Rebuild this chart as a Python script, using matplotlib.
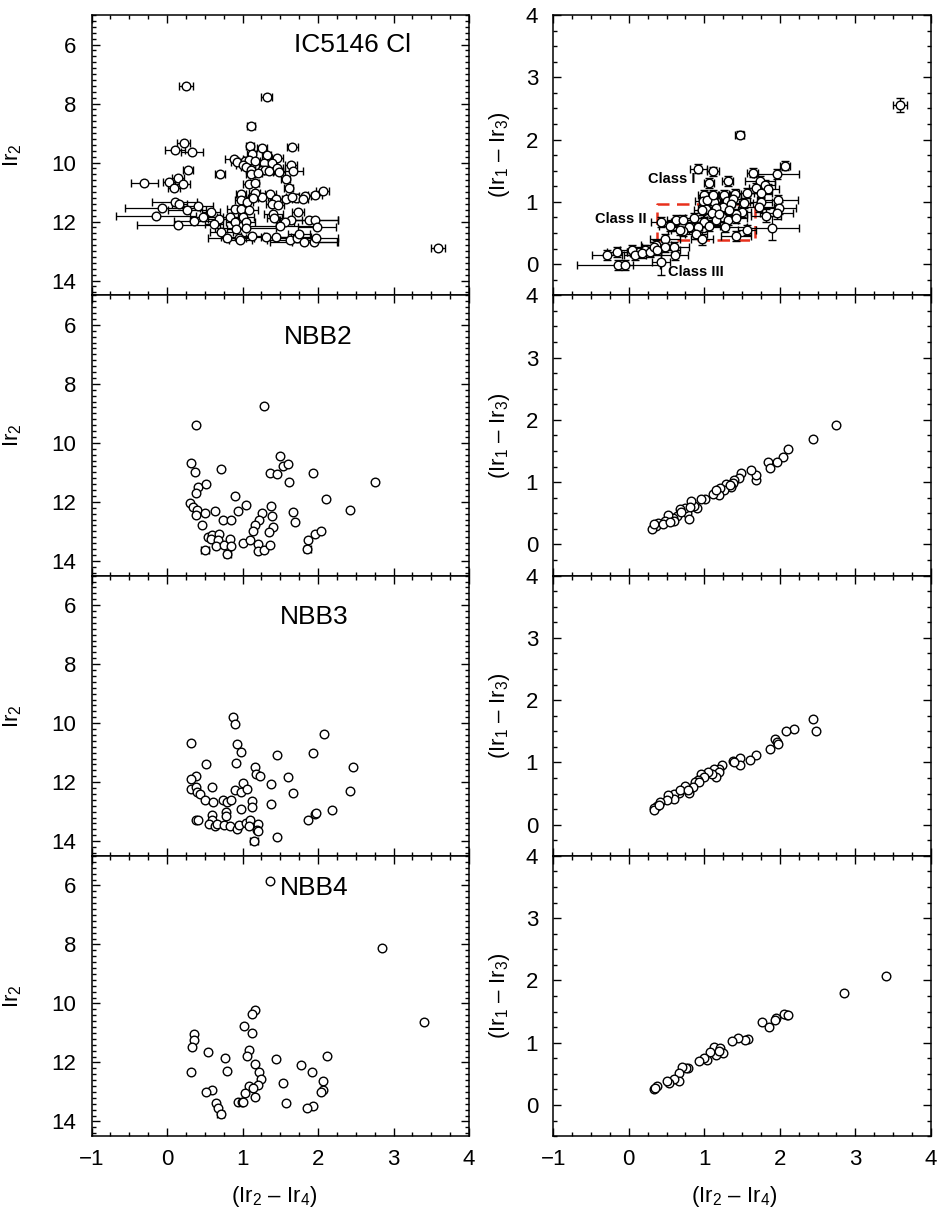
import numpy as np
import matplotlib
matplotlib.use("Agg")
import matplotlib.pyplot as plt
from matplotlib.ticker import MultipleLocator, NullFormatter

plt.rcParams['font.family'] = ['Liberation Sans', 'DejaVu Sans']
plt.rcParams['mathtext.fontset'] = 'custom'
plt.rcParams['mathtext.rm'] = 'Liberation Sans'
plt.rcParams['mathtext.it'] = 'Liberation Sans:italic'
plt.rcParams['mathtext.bf'] = 'Liberation Sans:bold'

# ---------------- DATA ----------------
panel_names = ["IC5146 Cl", "NBB2", "NBB3", "NBB4"]

# IC5146 Cl : colour-magnitude (x = Ir2-Ir4, y = Ir2, xerr)
ic_cmd_x = [0.25, 1.32, 1.11, 0.22, 0.11, 0.33, 1.10, 1.26, 1.66, 1.12, 1.32, 1.46, 0.89, 0.93, 1.03,
            1.08, 1.17, 1.29, 1.39, 1.00, 1.04, 1.64, 1.11, 1.26, 1.30, 1.35, 1.46, 1.48, 1.67, 1.11,
            1.20, 0.28, 0.70, 0.15, 0.03, 0.21, 0.09, -0.30, 1.09, 1.16, 1.57, 1.61, 2.06, 1.96, 1.83,
            1.71, 1.80, 1.57, 1.65, 1.37, 1.26, 1.16, 0.98, 1.44, 0.98, 1.06, 1.14, 1.39, 1.47, 0.10,
            0.16, -0.06, -0.15, 0.26, 0.41, 0.58, 0.48, 0.69, 0.62, 0.36, 0.15, 0.90, 0.98, 1.08, 1.00,
            0.84, 0.90, 1.04, 1.41, 1.42, 1.73, 1.64, 1.56, 1.50, 1.88, 1.96, 1.99, 0.72, 0.92, 1.04,
            0.79, 0.95, 0.97, 1.13, 1.44, 1.31, 1.63, 1.72, 1.75, 1.82, 1.95, 1.97, 3.59]
ic_cmd_y = [7.40, 7.78, 8.77, 9.34, 9.58, 9.63, 9.45, 9.52, 9.47, 9.72, 9.76, 9.85, 9.88, 9.99, 9.94,
            9.92, 9.95, 10.01, 10.03, 10.10, 10.14, 10.10, 10.24, 10.26, 10.24, 10.29, 10.18, 10.33, 10.28, 10.38,
            10.35, 10.26, 10.38, 10.54, 10.66, 10.72, 10.86, 10.70, 10.72, 10.69, 10.57, 10.86, 10.95, 11.10, 11.12,
            11.19, 11.25, 11.23, 11.16, 11.08, 11.16, 11.02, 11.08, 11.25, 11.28, 11.34, 11.19, 11.39, 11.45, 11.33,
            11.39, 11.55, 11.81, 11.62, 11.48, 11.68, 11.84, 11.93, 12.10, 11.98, 12.12, 11.59, 11.57, 11.62, 11.84,
            11.84, 12.00, 12.00, 11.76, 11.87, 11.67, 11.96, 12.02, 12.15, 11.95, 11.96, 12.18, 12.35, 12.24, 12.21,
            12.55, 12.55, 12.61, 12.49, 12.51, 12.52, 12.62, 12.57, 12.43, 12.68, 12.68, 12.56, 12.91]
ic_cmd_xerr = [0.09, 0.07, 0.05, 0.09, 0.13, 0.15, 0.05, 0.07, 0.07, 0.06, 0.06, 0.07, 0.12, 0.08, 0.08,
               0.06, 0.06, 0.07, 0.07, 0.08, 0.06, 0.08, 0.06, 0.10, 0.06, 0.07, 0.07, 0.08, 0.13, 0.06,
               0.06, 0.07, 0.07, 0.08, 0.08, 0.10, 0.08, 0.18, 0.08, 0.06, 0.06, 0.06, 0.09, 0.09, 0.08,
               0.08, 0.07, 0.08, 0.08, 0.07, 0.08, 0.07, 0.07, 0.08, 0.08, 0.08, 0.07, 0.08, 0.08, 0.30,
               0.10, 0.50, 0.53, 0.25, 0.20, 0.12, 0.18, 0.15, 0.12, 0.27, 0.55, 0.10, 0.12, 0.12, 0.15,
               0.10, 0.12, 0.12, 0.12, 0.10, 0.08, 0.15, 0.12, 0.50, 0.38, 0.30, 0.25, 0.15, 0.12, 0.40,
               0.25, 0.20, 0.15, 0.15, 0.20, 0.60, 0.30, 0.25, 0.15, 0.45, 0.30, 0.30, 0.09]

# IC5146 Cl : colour-colour (x = Ir2-Ir4, y = Ir1-Ir3, xerr, yerr)
ic_ccd_x = [3.59, 1.47, 2.07, 0.92, 1.11, 1.64, 1.96, 1.06, 1.31, 1.74, 1.81, 1.69, 1.84, 1.56, 1.75,
            1.26, 1.41, 1.09, 0.99, 0.98, 1.13, 1.30, 1.38, 1.97, 1.75, 1.72, 1.25, 1.36, 1.52, 1.02,
            1.16, 1.10, 1.50, 1.42, 1.99, 1.96, 1.82, 1.24, 1.32, 1.00, 0.87, 1.16, 1.42, 0.63, 0.43,
            0.71, 0.80, 0.92, 0.72, 0.89, 0.97, 1.27, 1.57, 1.42, 1.90, 0.48, 0.36, 0.22, 0.13, 0.04,
            0.08, 0.17, 0.60, 0.61, 0.43, -0.16, -0.29, -0.14, -0.05, 0.28, 0.33, 0.48, 0.38, 1.03,
            1.12, 0.97, 0.72, 0.55, 0.68, 1.06, 1.20, 1.33]
ic_ccd_y = [2.56, 2.08, 1.58, 1.53, 1.49, 1.47, 1.45, 1.30, 1.34, 1.34, 1.27, 1.22, 1.20, 1.14, 1.14,
            1.11, 1.12, 1.08, 1.11, 1.01, 0.99, 1.01, 1.05, 1.03, 1.00, 0.92, 0.91, 0.97, 0.98, 0.88,
            0.90, 0.82, 0.83, 0.81, 0.90, 0.82, 0.78, 0.76, 0.71, 0.68, 0.74, 0.71, 0.74, 0.71, 0.67,
            0.60, 0.60, 0.59, 0.53, 0.48, 0.41, 0.59, 0.55, 0.45, 0.58, 0.40, 0.30, 0.23, 0.19, 0.23,
            0.15, 0.18, 0.28, 0.15, 0.03, 0.19, 0.14, -0.02, -0.01, 0.20, 0.28, 0.28, 0.22, 1.03,
            1.11, 0.87, 0.71, 0.62, 0.55, 0.62, 0.80, 0.87]
ic_ccd_xerr = [0.09, 0.06, 0.07, 0.11, 0.08, 0.07, 0.30, 0.07, 0.07, 0.20, 0.12, 0.10, 0.15, 0.10, 0.15,
               0.08, 0.08, 0.08, 0.08, 0.10, 0.08, 0.08, 0.10, 0.27, 0.15, 0.20, 0.10, 0.10, 0.12, 0.10,
               0.10, 0.12, 0.12, 0.15, 0.22, 0.22, 0.20, 0.12, 0.12, 0.12, 0.12, 0.12, 0.15, 0.12, 0.13,
               0.15, 0.15, 0.12, 0.20, 0.15, 0.15, 0.30, 0.12, 0.20, 0.35, 0.20, 0.20, 0.20, 0.15, 0.15,
               0.15, 0.15, 0.20, 0.18, 0.12, 0.13, 0.20, 0.55, 0.10, 0.15, 0.15, 0.15, 0.30, 0.10,
               0.08, 0.10, 0.12, 0.15, 0.12, 0.15, 0.12, 0.12]
ic_ccd_yerr = [0.11, 0.06, 0.07, 0.07, 0.07, 0.07, 0.08, 0.08, 0.08, 0.08, 0.08, 0.08, 0.08, 0.08, 0.08,
               0.08, 0.08, 0.08, 0.08, 0.08, 0.08, 0.08, 0.08, 0.08, 0.08, 0.08, 0.08, 0.08, 0.08, 0.08,
               0.08, 0.08, 0.08, 0.08, 0.10, 0.10, 0.10, 0.08, 0.08, 0.08, 0.08, 0.08, 0.08, 0.08, 0.08,
               0.08, 0.08, 0.08, 0.08, 0.08, 0.11, 0.08, 0.08, 0.08, 0.19, 0.08, 0.08, 0.08, 0.08, 0.08,
               0.08, 0.08, 0.08, 0.08, 0.20, 0.08, 0.08, 0.08, 0.08, 0.08, 0.08, 0.08, 0.08, 0.08,
               0.08, 0.08, 0.08, 0.08, 0.08, 0.08, 0.08, 0.08]

# NBB2
nbb2_cmd_x = [1.28, 0.39, 0.32, 0.37, 0.71, 1.50, 1.54, 1.60, 1.37, 1.46, 1.93, 1.62, 2.75, 0.41, 0.52,
              0.39, 0.90, 2.11, 0.30, 0.35, 0.40, 0.39, 0.50, 0.64, 0.94, 1.05, 1.38, 1.26, 1.39, 1.67,
              1.69, 2.43, 0.74, 0.85, 1.22, 1.17, 1.14, 1.40, 1.35, 0.47, 0.54, 0.59, 0.69, 0.58, 0.67,
              0.65, 0.76, 0.84, 0.85, 0.50, 0.80, 1.00, 1.10, 1.20, 1.20, 1.29, 1.37, 1.87, 1.96, 2.04,
              1.86]
nbb2_cmd_y = [8.75, 9.40, 10.69, 11.00, 10.88, 10.46, 10.78, 10.72, 11.01, 11.06, 11.01, 11.32, 11.32, 11.49, 11.39,
              11.71, 11.81, 11.89, 12.05, 12.17, 12.26, 12.43, 12.38, 12.32, 12.32, 12.12, 12.15, 12.38, 12.49, 12.36,
              12.69, 12.29, 12.60, 12.60, 12.60, 12.77, 12.98, 12.85, 13.01, 12.80, 13.19, 13.11, 13.09, 13.25, 13.28,
              13.50, 13.45, 13.25, 13.50, 13.63, 13.78, 13.41, 13.30, 13.42, 13.65, 13.63, 13.46, 13.28, 13.09, 13.00,
              13.59]
nbb2_cmd_xerr = [0, 0, 0, 0, 0, 0, 0, 0, 0, 0, 0, 0, 0, 0, 0,
                 0, 0, 0, 0, 0, 0, 0, 0, 0, 0, 0, 0, 0, 0, 0,
                 0, 0, 0, 0, 0, 0, 0, 0, 0, 0, 0, 0, 0, 0, 0,
                 0, 0, 0, 0, 0.05, 0.05, 0, 0, 0, 0, 0, 0, 0, 0, 0,
                 0.05]
nbb2_ccd_x = [2.75, 2.44, 2.11, 2.04, 1.96, 1.85, 1.87, 1.69, 1.68, 1.62, 1.49, 1.46, 1.39, 1.38, 1.36,
              1.29, 1.26, 1.21, 1.19, 1.11, 1.01, 0.96, 0.90, 0.86, 0.83, 0.77, 0.80, 0.74, 0.68, 0.64,
              0.58, 0.52, 0.48, 0.39, 0.36, 0.31, 0.45, 0.60, 0.69, 1.15, 1.34, 0.34, 0.55, 0.81]
nbb2_ccd_y = [1.91, 1.69, 1.53, 1.41, 1.33, 1.33, 1.22, 1.04, 1.11, 1.19, 1.14, 1.07, 1.03, 0.99, 0.93,
              0.97, 0.87, 0.91, 0.80, 0.81, 0.73, 0.73, 0.59, 0.62, 0.69, 0.51, 0.41, 0.59, 0.57, 0.45,
              0.42, 0.48, 0.38, 0.35, 0.30, 0.25, 0.33, 0.37, 0.52, 0.88, 0.95, 0.33, 0.36, 0.60]

# NBB3
nbb3_cmd_x = [0.87, 0.90, 0.32, 0.93, 0.98, 2.08, 1.46, 1.93, 0.52, 0.91, 1.16, 1.18, 1.23, 2.47, 0.39,
              0.32, 1.60, 1.38, 1.00, 0.32, 0.38, 0.60, 0.90, 0.98, 1.06, 1.67, 2.43, 0.40, 0.44, 0.50,
              0.61, 0.74, 0.79, 0.85, 1.13, 1.12, 1.38, 0.98, 0.78, 0.78, 0.59, 0.60, 0.39, 0.41, 0.55,
              0.64, 0.66, 0.76, 0.83, 0.93, 0.96, 1.05, 1.10, 1.09, 1.20, 1.19, 1.21, 1.15, 1.46, 1.87,
              1.96, 1.97, 2.19]
nbb3_cmd_y = [9.80, 10.03, 10.69, 10.71, 10.99, 10.37, 11.07, 11.02, 11.40, 11.36, 11.50, 11.72, 11.79, 11.50, 11.80,
              11.88, 11.84, 12.06, 12.04, 12.22, 12.18, 12.15, 12.26, 12.32, 12.24, 12.38, 12.30, 12.32, 12.41, 12.60,
              12.68, 12.60, 12.66, 12.60, 12.64, 12.83, 12.74, 12.91, 13.02, 13.16, 13.13, 13.28, 13.30, 13.28, 13.41,
              13.49, 13.43, 13.45, 13.50, 13.58, 13.45, 13.37, 13.30, 13.50, 13.42, 13.61, 13.67, 13.98, 13.86, 13.28,
              13.08, 13.03, 12.95]
nbb3_cmd_xerr = [0, 0, 0, 0, 0, 0, 0, 0, 0, 0, 0, 0, 0, 0, 0,
                 0, 0, 0, 0, 0, 0, 0, 0, 0, 0, 0, 0, 0, 0, 0,
                 0, 0, 0, 0, 0, 0, 0, 0, 0, 0, 0, 0, 0, 0, 0,
                 0, 0, 0, 0, 0, 0, 0, 0, 0, 0, 0, 0, 0.05, 0, 0,
                 0, 0, 0]
nbb3_ccd_x = [2.44, 2.48, 2.19, 2.08, 1.93, 1.96, 1.98, 1.87, 1.68, 1.61, 1.47, 1.47, 1.38, 1.39, 1.23,
              1.19, 1.13, 1.20, 1.16, 1.10, 1.05, 0.96, 1.00, 0.92, 0.88, 0.93, 0.85, 0.77, 0.80, 0.75,
              0.67, 0.60, 0.60, 0.52, 0.51, 0.41, 0.38, 0.33, 0.34, 0.40, 0.68, 0.79]
nbb3_ccd_y = [1.70, 1.50, 1.53, 1.51, 1.37, 1.33, 1.30, 1.22, 1.12, 1.04, 1.07, 0.96, 1.03, 1.00, 0.96,
              0.90, 0.89, 0.85, 0.76, 0.81, 0.85, 0.82, 0.76, 0.72, 0.69, 0.68, 0.61, 0.58, 0.51, 0.62,
              0.51, 0.49, 0.42, 0.48, 0.40, 0.36, 0.30, 0.27, 0.24, 0.31, 0.56, 0.55]

# NBB4
nbb4_cmd_x = [1.36, 2.85, 3.40, 1.17, 1.12, 1.02, 1.13, 0.36, 0.36, 0.33, 0.54, 1.09, 1.06, 0.77, 1.45,
              2.12, 1.78, 1.17, 0.32, 0.80, 1.92, 1.22, 1.25, 2.06, 1.53, 1.20, 1.08, 1.14, 2.07, 2.04,
              0.60, 0.51, 1.03, 1.17, 0.65, 0.67, 0.71, 0.94, 0.99, 1.01, 1.58, 1.94, 1.86]
nbb4_cmd_y = [5.85, 8.11, 10.63, 10.23, 10.35, 10.75, 11.00, 11.02, 11.24, 11.47, 11.64, 11.58, 11.79, 11.84, 11.87,
              11.77, 12.08, 12.06, 12.34, 12.28, 12.33, 12.34, 12.55, 12.63, 12.69, 12.76, 12.79, 12.87, 12.93, 12.99,
              12.93, 13.01, 13.03, 13.18, 13.38, 13.54, 13.75, 13.34, 13.33, 13.33, 13.39, 13.48, 13.56]
nbb4_cmd_xerr = [0, 0, 0, 0, 0, 0, 0, 0, 0, 0, 0, 0, 0, 0, 0,
                 0, 0, 0, 0, 0, 0, 0, 0, 0, 0, 0, 0, 0, 0, 0,
                 0, 0, 0, 0, 0, 0, 0.05, 0, 0, 0, 0, 0, 0]
nbb4_ccd_x = [3.40, 2.85, 2.09, 2.05, 2.11, 1.95, 1.93, 1.77, 1.86, 1.58, 1.54, 1.45, 1.37, 1.13, 1.21,
              1.25, 1.16, 1.07, 1.03, 1.00, 0.93, 0.79, 0.76, 0.71, 0.67, 0.67, 0.60, 0.53, 0.37, 0.33,
              0.35, 0.51, 1.19]
nbb4_ccd_y = [2.07, 1.80, 1.45, 1.46, 1.44, 1.39, 1.37, 1.33, 1.25, 1.06, 1.04, 1.07, 1.03, 0.93, 0.91,
              0.83, 0.80, 0.85, 0.72, 0.76, 0.70, 0.59, 0.59, 0.61, 0.52, 0.39, 0.42, 0.36, 0.31, 0.25,
              0.28, 0.38, 0.87]

cmd_sets = [(ic_cmd_x, ic_cmd_y, ic_cmd_xerr),
            (nbb2_cmd_x, nbb2_cmd_y, nbb2_cmd_xerr),
            (nbb3_cmd_x, nbb3_cmd_y, nbb3_cmd_xerr),
            (nbb4_cmd_x, nbb4_cmd_y, nbb4_cmd_xerr)]
ccd_sets = [(ic_ccd_x, ic_ccd_y, ic_ccd_xerr, ic_ccd_yerr),
            (nbb2_ccd_x, nbb2_ccd_y, None, None),
            (nbb3_ccd_x, nbb3_ccd_y, None, None),
            (nbb4_ccd_x, nbb4_ccd_y, None, None)]

# Class II box and labels in colour-colour plane
class2_box_x = [0.37, 1.67]
class2_box_y = [0.38, 0.97]
class_labels = ["Class I", "Class II", "Class III"]
class_label_x = [0.25, -0.45, 0.52]
class_label_y = [1.37, 0.73, -0.13]

title_x = [1.68, 1.55, 1.49, 1.50]
title_y = [6.0, 6.4, 6.4, 6.1]

# ---------------- PLOT ----------------
W, H = 941, 1215
fig = plt.figure(figsize=(W / 100, H / 100), dpi=100)

lx0, rx0, pw = 91.5, 553.3, 377.5
top, ph = 15.0, 280.3

mk = dict(marker='o', ms=6.2, mfc='white', mec='black', mew=1.0, linestyle='none')
eb = dict(ecolor='black', elinewidth=0.9, capsize=2.8, capthick=0.9)


def style(ax, bottom_row):
    ax.tick_params(which='both', direction='in', top=True, right=True,
                   labelsize=16, width=1.0, colors='black')
    ax.tick_params(which='major', length=6)
    ax.tick_params(which='minor', length=3)
    ax.tick_params(axis='y', pad=11)
    ax.tick_params(axis='x', pad=9)
    ax.xaxis.set_major_locator(MultipleLocator(1))
    ax.xaxis.set_minor_locator(MultipleLocator(0.25))
    ax.set_xlim(-1, 4)
    for s in ax.spines.values():
        s.set_linewidth(1.1)
    if not bottom_row:
        ax.xaxis.set_major_formatter(NullFormatter())


for i in range(4):
    y0 = H - (top + (i + 1) * ph)
    bottom_row = (i == 3)

    # left: colour-magnitude
    axl = fig.add_axes([lx0 / W, y0 / H, pw / W, ph / H])
    style(axl, bottom_row)
    axl.set_ylim(14.5, 5)
    axl.yaxis.set_major_locator(MultipleLocator(2))
    axl.yaxis.set_minor_locator(MultipleLocator(0.2))
    cx, cy, cxe = cmd_sets[i]
    axl.errorbar(cx, cy, xerr=cxe, **mk, **eb)
    axl.text(title_x[i], title_y[i], panel_names[i], fontsize=19, ha='left', va='center')
    axl.set_ylabel(r'Ir$_2$', fontsize=16)
    axl.yaxis.set_label_coords(-0.18, 0.5)
    if bottom_row:
        axl.set_xlabel(r'(Ir$_2$ – Ir$_4$)', fontsize=16)
        axl.xaxis.set_label_coords(0.485, -0.17)

    # right: colour-colour
    axr = fig.add_axes([rx0 / W, y0 / H, pw / W, ph / H])
    style(axr, bottom_row)
    axr.set_ylim(-0.5, 4)
    axr.yaxis.set_major_locator(MultipleLocator(1))
    axr.yaxis.set_minor_locator(MultipleLocator(0.25))
    dx, dy, dxe, dye = ccd_sets[i]
    if dxe is not None:
        axr.errorbar(dx, dy, xerr=dxe, yerr=dye, **mk, **eb)
    else:
        axr.plot(dx, dy, **mk)
    axr.set_ylabel(r'(Ir$_1$ – Ir$_3$)', fontsize=16)
    axr.yaxis.set_label_coords(-0.11, 0.5)
    if bottom_row:
        axr.set_xlabel(r'(Ir$_2$ – Ir$_4$)', fontsize=16)
        axr.xaxis.set_label_coords(0.48, -0.17)

    if i == 0:
        bx = [class2_box_x[0], class2_box_x[1], class2_box_x[1], class2_box_x[0], class2_box_x[0]]
        by = [class2_box_y[0], class2_box_y[0], class2_box_y[1], class2_box_y[1], class2_box_y[0]]
        axr.plot(bx, by, color='#e8301c', lw=1.8, linestyle=(0, (5, 3)), zorder=1.5)
        for lab, lxp, lyp in zip(class_labels, class_label_x, class_label_y):
            axr.text(lxp, lyp, lab, fontsize=10.5, fontweight='bold', ha='left', va='center', zorder=5)

fig.savefig('out.png', dpi=100)
